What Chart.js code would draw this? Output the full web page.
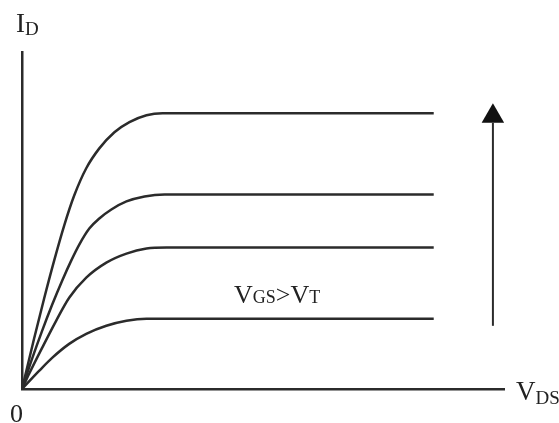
<!DOCTYPE html>
<html>
<head>
<meta charset="utf-8">
<script src="https://cdn.jsdelivr.net/npm/chart.js@4"></script>
<style>
  html, body { margin: 0; padding: 0; background: #fff; }
  #wrap { width: 559px; height: 423px; }
</style>
</head>
<body>
<div id="wrap"><canvas id="outChart" width="559" height="423"></canvas></div>
<script>
// curvas de salida (unidades arbitrarias)
var curve1X = [0, 2.5, 4.58, 6.67, 8.75, 10.83, 13.33, 16.04, 19.17, 22.29, 25.83, 29.17, 85.42];
var curve1Y = [0, 14.9, 26.8, 38.1, 48.5, 57.4, 65.5, 71.4, 76.2, 79.2, 81.25, 81.85, 81.85];

var curve2X = [0, 2.08, 4.17, 6.25, 8.33, 10.21, 11.88, 13.96, 16.04, 18.54, 21.67, 25.42, 29.58, 85.42];
var curve2Y = [0, 8.93, 17.26, 25, 32.14, 38.1, 42.86, 47.62, 50.6, 53.27, 55.65, 57.14, 57.74, 57.74];

var curve3X = [0, 1.46, 4.17, 7.08, 9.79, 13.33, 17.5, 21.67, 25.83, 30, 85.42];
var curve3Y = [0, 4.46, 12.2, 20.24, 27.08, 33.04, 37.5, 40.18, 41.67, 41.96, 41.96];

var curve4X = [0, 3.54, 6.25, 9.79, 13.33, 17.5, 21.67, 25.83, 30, 85.42];
var curve4Y = [0, 5.36, 9.23, 13.39, 16.37, 18.75, 20.24, 20.83, 20.83, 20.83];

// flecha: VGS creciente
var arrowX = [97.7, 97.7];
var arrowY = [18.75, 79];
var arrowHead = [80.9];

function pts(xs, ys) {
  return xs.map(function (x, i) { return { x: x, y: ys[i] }; });
}

var lineColor = '#2b2b2b';

function curve(xs, ys) {
  return {
    data: pts(xs, ys),
    borderColor: lineColor,
    borderWidth: 2.5,
    pointRadius: 0,
    cubicInterpolationMode: 'monotone',
    fill: false
  };
}

// textos sobre el lienzo
var labelsPlugin = {
  id: 'labels',
  afterDraw: function (chart) {
    var ctx = chart.ctx;
    ctx.save();
    ctx.fillStyle = '#222';
    ctx.textBaseline = 'alphabetic';
    ctx.textAlign = 'left';
    var big = '27px "Liberation Serif"';
    var small = '19px "Liberation Serif"';

    function sub(main, s, x, y, bigF, smallF, drop) {
      ctx.font = bigF;
      ctx.fillText(main, x, y);
      var w = ctx.measureText(main).width;
      ctx.font = smallF;
      ctx.fillText(s, x + w, y + drop);
      return x + w + ctx.measureText(s).width;
    }

    sub('I', 'D', 16, 32, big, small, 3);
    sub('V', 'DS', 516, 400, big, small, 4);

    ctx.font = '26px "Liberation Serif"';
    ctx.fillText('0', 10, 422);

    var x = sub('V', 'GS', 234, 303, '26px "Liberation Serif"', '18px "Liberation Serif"', 0);
    ctx.font = '26px "Liberation Serif"';
    ctx.fillText('>', x, 303);
    x += ctx.measureText('>').width;
    sub('V', 'T', x, 303, '26px "Liberation Serif"', '18px "Liberation Serif"', 0);
    ctx.restore();
  }
};

var ctx = document.getElementById('outChart').getContext('2d');
var outChart = new Chart(ctx, {
  type: 'line',
  data: {
    datasets: [
      curve(curve1X, curve1Y),
      curve(curve2X, curve2Y),
      curve(curve3X, curve3Y),
      curve(curve4X, curve4Y),
      {
        data: pts(arrowX, arrowY),
        borderColor: lineColor,
        borderWidth: 2,
        pointRadius: 0,
        fill: false
      },
      {
        data: pts([arrowX[0]], arrowHead),
        showLine: false,
        pointStyle: 'triangle',
        pointRadius: 13,
        pointBackgroundColor: '#111',
        pointBorderColor: '#111',
        pointBorderWidth: 0
      }
    ]
  },
  options: {
    responsive: false,
    animation: false,
    layout: { padding: { left: 22, right: 55, top: 52, bottom: 34 } },
    plugins: { legend: { display: false }, tooltip: { enabled: false } },
    scales: {
      x: {
        type: 'linear',
        min: 0, max: 100,
        grid: { display: false, drawTicks: false },
        border: { display: true, color: lineColor, width: 2.5 },
        ticks: { display: false }
      },
      y: {
        type: 'linear',
        min: 0, max: 100,
        grid: { display: false, drawTicks: false },
        border: { display: true, color: lineColor, width: 2.5 },
        ticks: { display: false }
      }
    }
  },
  plugins: [labelsPlugin]
});
</script>
</body>
</html>
